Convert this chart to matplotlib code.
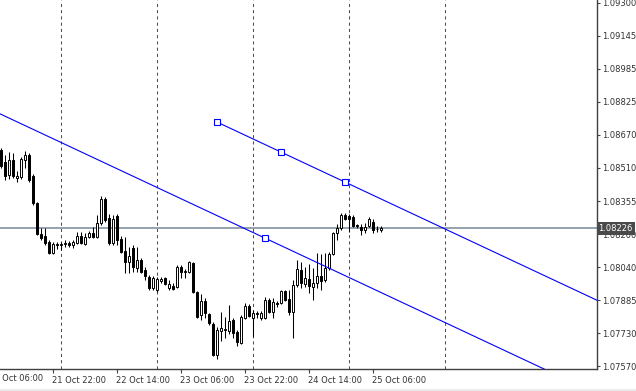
import numpy as np
import pandas as pd
import matplotlib
matplotlib.use("Agg")
import matplotlib.pyplot as plt
import matplotlib.transforms as mtransforms
from matplotlib.patches import Rectangle

# ------------------------------
# Data (EURUSD H1)
# ------------------------------
first_bar = "2024-10-21 09:00"
opens = [1.08599, 1.08542, 1.08480, 1.08552, 1.08466, 1.08471, 1.08552, 1.08576,
         1.08476, 1.08347, 1.08199, 1.08190, 1.08161, 1.08108, 1.08151, 1.08147,
         1.08151, 1.08156, 1.08147, 1.08156, 1.08190, 1.08151, 1.08185, 1.08204,
         1.08185, 1.08251, 1.08366, 1.08275, 1.08156, 1.08285, 1.08175, 1.08118,
         1.08066, 1.08132, 1.08037, 1.08075, 1.08027, 1.07994, 1.07942, 1.07932,
         1.07975, 1.07989, 1.07942, 1.07951, 1.07946, 1.08042, 1.08018, 1.08018,
         1.08061, 1.07923, 1.07813, 1.07880, 1.07818, 1.07770, 1.07622, 1.07737,
         1.07742, 1.07737, 1.07789, 1.07732, 1.07680, 1.07799, 1.07856, 1.07799,
         1.07818, 1.07799, 1.07799, 1.07884, 1.07827, 1.07870, 1.07870, 1.07927,
         1.07889, 1.07827, 1.07956, 1.08027, 1.07961, 1.07985, 1.07946, 1.07966,
         1.07999, 1.07980, 1.08037, 1.08104, 1.08204, 1.08228, 1.08289, 1.08285,
         1.08280, 1.08242, 1.08232, 1.08218, 1.08237, 1.08256, 1.08223, 1.08218]
highs = [1.08609, 1.08576, 1.08590, 1.08585, 1.08499, 1.08566, 1.08595, 1.08585,
         1.08485, 1.08351, 1.08228, 1.08228, 1.08170, 1.08161, 1.08161, 1.08161,
         1.08170, 1.08166, 1.08170, 1.08209, 1.08209, 1.08204, 1.08213, 1.08232,
         1.08289, 1.08380, 1.08375, 1.08294, 1.08289, 1.08294, 1.08190, 1.08185,
         1.08137, 1.08147, 1.08137, 1.08085, 1.08042, 1.08004, 1.07999, 1.07994,
         1.07994, 1.07994, 1.07980, 1.07966, 1.08051, 1.08051, 1.08032, 1.08070,
         1.08066, 1.07927, 1.07913, 1.07894, 1.07823, 1.07780, 1.07756, 1.07827,
         1.07804, 1.07861, 1.07799, 1.07742, 1.07813, 1.07870, 1.07865, 1.07837,
         1.07832, 1.07832, 1.07899, 1.07894, 1.07894, 1.07880, 1.07932, 1.07932,
         1.07932, 1.07980, 1.08075, 1.08066, 1.08042, 1.08056, 1.08037, 1.08108,
         1.08104, 1.08108, 1.08113, 1.08209, 1.08247, 1.08299, 1.08299, 1.08294,
         1.08289, 1.08247, 1.08247, 1.08251, 1.08280, 1.08270, 1.08237, 1.08237]
lows = [1.08514, 1.08456, 1.08461, 1.08466, 1.08447, 1.08461, 1.08514, 1.08447,
        1.08337, 1.08194, 1.08170, 1.08147, 1.08104, 1.08104, 1.08128, 1.08123,
        1.08137, 1.08137, 1.08132, 1.08151, 1.08151, 1.08147, 1.08180, 1.08180,
        1.08180, 1.08242, 1.08256, 1.08147, 1.08147, 1.08147, 1.08108, 1.08013,
        1.08013, 1.08018, 1.08018, 1.08013, 1.07980, 1.07932, 1.07932, 1.07923,
        1.07966, 1.07956, 1.07932, 1.07932, 1.07942, 1.07989, 1.07989, 1.08013,
        1.07918, 1.07799, 1.07789, 1.07799, 1.07765, 1.07617, 1.07603, 1.07689,
        1.07704, 1.07723, 1.07704, 1.07665, 1.07675, 1.07794, 1.07804, 1.07708,
        1.07799, 1.07789, 1.07794, 1.07823, 1.07799, 1.07851, 1.07865, 1.07880,
        1.07813, 1.07704, 1.07946, 1.07942, 1.07946, 1.07918, 1.07884, 1.07942,
        1.07932, 1.07970, 1.08027, 1.08099, 1.08170, 1.08218, 1.08266, 1.08209,
        1.08232, 1.08228, 1.08194, 1.08204, 1.08232, 1.08204, 1.08209, 1.08209]
closes = [1.08523, 1.08476, 1.08552, 1.08476, 1.08476, 1.08557, 1.08576, 1.08456,
          1.08347, 1.08199, 1.08180, 1.08156, 1.08108, 1.08151, 1.08147, 1.08151,
          1.08156, 1.08147, 1.08161, 1.08190, 1.08156, 1.08185, 1.08204, 1.08185,
          1.08251, 1.08366, 1.08266, 1.08156, 1.08270, 1.08170, 1.08113, 1.08066,
          1.08094, 1.08042, 1.08075, 1.08018, 1.07999, 1.07942, 1.07989, 1.07985,
          1.07985, 1.07961, 1.07961, 1.07937, 1.08042, 1.08018, 1.08023, 1.08066,
          1.07923, 1.07804, 1.07880, 1.07823, 1.07775, 1.07622, 1.07742, 1.07751,
          1.07746, 1.07785, 1.07727, 1.07684, 1.07804, 1.07856, 1.07808, 1.07823,
          1.07823, 1.07823, 1.07884, 1.07827, 1.07875, 1.07865, 1.07927, 1.07884,
          1.07827, 1.07956, 1.08032, 1.07966, 1.07989, 1.07951, 1.07966, 1.07999,
          1.07975, 1.08037, 1.08104, 1.08204, 1.08228, 1.08289, 1.08270, 1.08270,
          1.08237, 1.08237, 1.08218, 1.08232, 1.08270, 1.08218, 1.08221, 1.08226]

current_price = 1.08226
current_label = "1.08226"

# price scale labels on the right
y_tick_labels = ["1.09300", "1.09145", "1.08985", "1.08825", "1.08670", "1.08510",
                 "1.08355", "1.08200", "1.08040", "1.07885", "1.07730", "1.07570"]

# time scale labels
x_tick_times = ["2024-10-21 06:00", "2024-10-21 22:00", "2024-10-22 14:00",
                "2024-10-23 06:00", "2024-10-23 22:00", "2024-10-24 14:00",
                "2024-10-25 06:00"]

# day separators
separator_times = ["2024-10-22", "2024-10-23", "2024-10-24", "2024-10-25", "2024-10-26"]

# channel anchors
upper_times = ["2024-10-23 15:00", "2024-10-24 07:00", "2024-10-24 23:00"]
upper_prices = [1.08733, 1.08590, 1.08447]
lower_time = "2024-10-24 03:00"
lower_price = 1.08180


def main():
    t0 = pd.Timestamp("2024-10-21 00:00")

    def hours(ts):
        return (pd.to_datetime(ts) - t0) / pd.Timedelta(hours=1)

    bar_times = pd.date_range(first_bar, periods=len(opens), freq="h")
    x = np.asarray(hours(bar_times), dtype=float)
    o = np.array(opens)
    h = np.array(highs)
    l = np.array(lows)
    c = np.array(closes)

    fig = plt.figure(figsize=(6.36, 3.91), dpi=100)
    ax = fig.add_axes([0, 22 / 391, 597 / 636, 369 / 391])

    x_min, x_max = 8.8, 158.05
    y_min, y_max = 1.07556, 1.09314
    ax.set_xlim(x_min, x_max)
    ax.set_ylim(y_min, y_max)

    # ------------------------------
    # Day separators + current price line
    # ------------------------------
    for s in separator_times:
        ax.axvline(hours(s), color="#505050", lw=0.75, ls=(0, (3, 3)), zorder=1)
    ax.axhline(current_price, color="#778899", lw=1.1, zorder=1)

    # ------------------------------
    # Candles
    # ------------------------------
    ax.vlines(x, l, h, color="black", lw=0.75, zorder=2)
    up = c >= o
    body_lo = np.minimum(o, c)
    body_h = np.abs(c - o)
    ax.bar(x[up], body_h[up], bottom=body_lo[up], width=0.5,
           facecolor="white", edgecolor="black", lw=0.7, zorder=3)
    ax.bar(x[~up], body_h[~up], bottom=body_lo[~up], width=0.5,
           facecolor="black", edgecolor="black", lw=0.7, zorder=3)

    # ------------------------------
    # Channel lines
    # ------------------------------
    ux = np.asarray(hours(upper_times), dtype=float)
    slope = (upper_prices[-1] - upper_prices[0]) / (ux[-1] - ux[0])
    ax.plot([ux[0], x_max], [upper_prices[0], upper_prices[0] + slope * (x_max - ux[0])],
            color="#0000ff", lw=0.8, zorder=4)
    lx = hours(lower_time)
    ax.plot([x_min, x_max],
            [lower_price + slope * (x_min - lx), lower_price + slope * (x_max - lx)],
            color="#0000ff", lw=0.8, zorder=4)
    ax.plot(list(ux) + [lx], upper_prices + [lower_price], ls="none", marker="s",
            ms=4, mfc="white", mec="#0000ff", mew=0.8, zorder=5)

    # ------------------------------
    # Axes styling (terminal look)
    # ------------------------------
    for side in ["left", "top"]:
        ax.spines[side].set_visible(False)
    for side in ["right", "bottom"]:
        ax.spines[side].set_color("#404040")
        ax.spines[side].set_linewidth(1.0)

    ax.yaxis.tick_right()
    ax.set_yticks(np.linspace(1.09300, 1.07570, len(y_tick_labels)))
    ax.set_yticklabels(y_tick_labels)
    ax.tick_params(axis="y", direction="out", length=2.5, width=0.8, pad=1.5,
                   labelsize=6, colors="#404040", labelcolor="#333333")

    xt = np.asarray(hours(x_tick_times), dtype=float)
    xt_labels = [pd.Timestamp(t).strftime("%d %b %H:%M") for t in x_tick_times]
    ax.set_xticks(xt[1:])
    ax.set_xticklabels(xt_labels[1:])
    ax.tick_params(axis="x", direction="out", length=3, width=0.8, pad=2,
                   labelsize=6, colors="#404040", labelcolor="#333333")
    for lab in ax.get_xticklabels():
        lab.set_ha("left")
        lab.set_x(lab.get_position()[0])
    offset = mtransforms.ScaledTranslation(-1 / 100, 0, fig.dpi_scale_trans)
    for lab in ax.get_xticklabels():
        lab.set_transform(lab.get_transform() + offset)

    # first label is cut by the window edge
    ax.text(xt[0], -0.0135, xt_labels[0], transform=ax.get_xaxis_transform(),
            ha="left", va="top", fontsize=6, color="#333333", clip_on=False)

    # current price tag
    trans = mtransforms.blended_transform_factory(ax.transAxes, ax.transData)
    ax.text(1.0025, current_price, current_label, transform=trans, ha="left",
            va="center", fontsize=6, color="white", clip_on=False, zorder=10,
            bbox=dict(boxstyle="square,pad=0.2", fc="#4a4a4a", ec="none"))

    # window edge strip
    fig.patches.append(Rectangle((0, 0), 1, 2 / 391, transform=fig.transFigure,
                                 facecolor="#ececec", edgecolor="none"))

    fig.savefig("out.png", dpi=100)


if __name__ == "__main__":
    main()
